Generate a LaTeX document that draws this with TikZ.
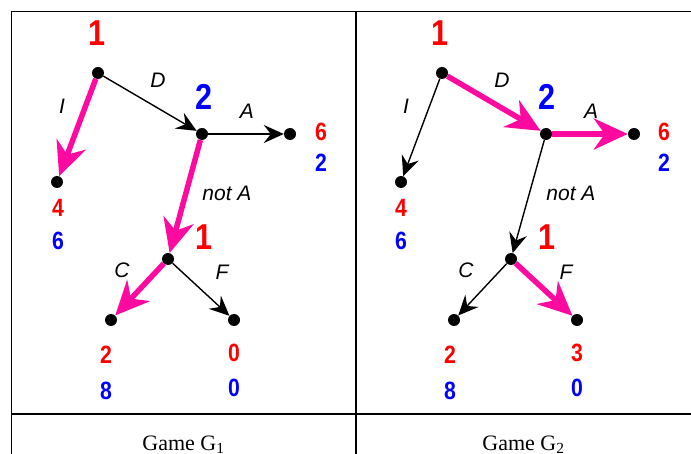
\documentclass[tikz,border=0pt]{standalone}
\usepackage{fontspec}
\setmainfont{Liberation Serif}
\setsansfont{Liberation Sans}
\newfontfamily\numfont[FakeStretch=0.85]{Liberation Sans}
\usepackage{xcolor}
\usetikzlibrary{arrows.meta,positioning}
\definecolor{hotpink}{RGB}{255,10,160}

\begin{document}
\begin{tikzpicture}[x=1pt,y=-1pt,>={Stealth[length=20pt,width=18pt,inset=7pt]},
  dot/.style={circle,fill=black,inner sep=0pt,minimum size=12pt},
  move/.style={->,line width=1.4pt},
  best/.style={-{Stealth[length=34pt,width=31pt,inset=11pt]},line width=5.5pt,draw=hotpink},
  player/.style={font=\numfont\bfseries\fontsize{36}{36}\selectfont},
  pay/.style={font=\numfont\bfseries\fontsize{25}{25}\selectfont},
  act/.style={font=\sffamily\itshape\fontsize{21}{21}\selectfont},
  caption/.style={font=\fontsize{22}{22}\selectfont,anchor=base}]
  \useasboundingbox (0,0) rectangle (691,454);

  % table lines
  \coordinate (tl) at (11.5,11.5);
  \coordinate (tr) at (691,11.5);
  \coordinate (bl) at (11.5,454);
  \coordinate (mt) at (356,11.5);
  \coordinate (mb) at (356,454);
  \coordinate (hl) at (11.5,414);
  \coordinate (hr) at (691,414);
  \draw[line width=1.5pt] (bl)--(tl)--(tr);
  \draw[line width=1.5pt] (mt)--(mb);
  \draw[line width=1.5pt] (hl)--(hr);

  % game G1
  \node[dot] (rootL) at (98,73) {};
  \node[dot] (twoL) at (202,134) {};
  \node[dot] (endAL) at (290,134) {};
  \node[dot] (endIL) at (57,182) {};
  \node[dot] (oneL) at (168,259) {};
  \node[dot] (endCL) at (111,320) {};
  \node[dot] (endFL) at (234,320) {};

  \draw[move] (rootL)--(twoL);
  \draw[move] (twoL)--(endAL);
  \draw[move] (oneL)--(endFL);
  \draw[best] (rootL)--(endIL);
  \draw[best] (twoL)--(oneL);
  \draw[best] (oneL)--(endCL);

  \node[player,red] (p1L) at (97,33) {1};
  \node[player,blue] (p2L) at (204,97) {2};
  \node[player,red] (p3L) at (204,237) {1};

  \node[act] (dL) at (158,80) {D};
  \node[act] (iL) at (62,106) {I};
  \node[act] (aL) at (247,111) {A};
  \node[act] (naL) at (227,193) {not A};
  \node[act] (cL) at (122,270) {C};
  \node[act] (fL) at (222,272) {F};

  \node[pay,red] (uAL) at (321,132) {6};
  \node[pay,blue] (vAL) at (321,163) {2};
  \node[pay,red] (uIL) at (58,208) {4};
  \node[pay,blue] (vIL) at (58,241) {6};
  \node[pay,red] (uCL) at (106,355) {2};
  \node[pay,blue] (vCL) at (106,391) {8};
  \node[pay,red] (uFL) at (234,353) {0};
  \node[pay,blue] (vFL) at (234,388) {0};

  \node[caption] (capL) at (183.5,450) {Game G\textsubscript{1}};

  % game G2
  \node[dot] (rootR) at (442,73) {};
  \node[dot] (twoR) at (546,134) {};
  \node[dot] (endAR) at (634,134) {};
  \node[dot] (endIR) at (401,182) {};
  \node[dot] (oneR) at (511,259) {};
  \node[dot] (endCR) at (454,320) {};
  \node[dot] (endFR) at (577,320) {};

  \draw[move] (rootR)--(endIR);
  \draw[move] (twoR)--(oneR);
  \draw[move] (oneR)--(endCR);
  \draw[best] (rootR)--(twoR);
  \draw[best] (twoR)--(endAR);
  \draw[best] (oneR)--(endFR);

  \node[player,red] (p1R) at (440,33) {1};
  \node[player,blue] (p2R) at (547,97) {2};
  \node[player,red] (p3R) at (547,237) {1};

  \node[act] (dR) at (502,80) {D};
  \node[act] (iR) at (406,106) {I};
  \node[act] (aR) at (591,111) {A};
  \node[act] (naR) at (571,193) {not A};
  \node[act] (cR) at (466,270) {C};
  \node[act] (fR) at (566,272) {F};

  \node[pay,red] (uAR) at (664,132) {6};
  \node[pay,blue] (vAR) at (664,163) {2};
  \node[pay,red] (uIR) at (401,208) {4};
  \node[pay,blue] (vIR) at (401,241) {6};
  \node[pay,red] (uCR) at (450,355) {2};
  \node[pay,blue] (vCR) at (450,391) {8};
  \node[pay,red] (uFR) at (577,353) {3};
  \node[pay,blue] (vFR) at (577,388) {0};

  \node[caption] (capR) at (523.5,450) {Game G\textsubscript{2}};
\end{tikzpicture}
\end{document}
